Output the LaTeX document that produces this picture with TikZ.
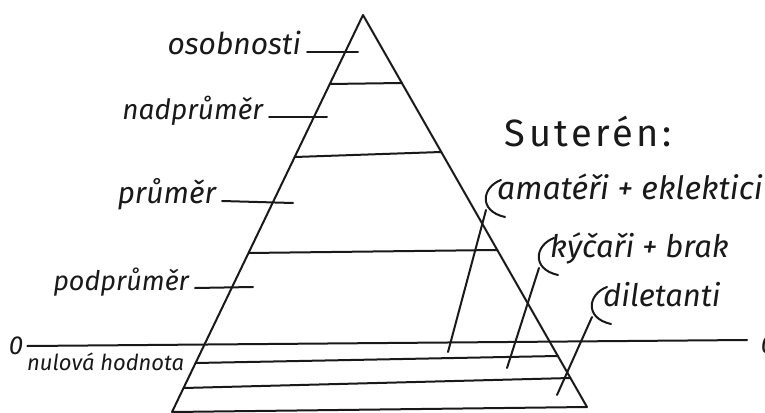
\documentclass[tikz,border=0pt]{standalone}
\usepackage{fontspec}
\setmainfont{Fira Sans}
\usetikzlibrary{calc}

\begin{document}
\begin{tikzpicture}[x=1pt, y=-1pt,
  pen/.style={line width=2pt, line cap=round, line join=round, black!90},
  hand/.style={font=\fontsize{#1}{#1}\selectfont\itshape, inner sep=0pt, text=black!90},
  lft/.style={hand=#1, anchor=mid east, outer xsep=6pt},
  rgt/.style={hand=#1, anchor=mid west}
]
\useasboundingbox (0,0) rectangle (765,412);

% pyramid
\coordinate (apex) at (363,15);
\coordinate (bl)   at (172,412);
\coordinate (br)   at (587,407);
\draw[pen] (bl) -- (apex) -- (br) -- (bl);

% levels
\foreach \yl/\yr in {84/83, 157/152, 253/250, 363/356, 388/378}
  \draw[pen] ($(apex)!{(\yl-15)/397}!(bl)$) -- ($(apex)!{(\yr-15)/392}!(br)$);

% zero line
\node[hand=26] (zeroL) at (16,346) {0};
\node[hand=26] (zeroR) at (768,345) {0};
\coordinate (zeroE) at (747,340);
\draw[pen] ([xshift=4pt]zeroL.east) -- (zeroE);
\node[rgt=22] (nula) at (27,368) {nulová hodnota};

% left labels
\node[lft=30] (osob) at (307,52)  {osobnosti};
\node[lft=28] (nadp) at (269,117) {nadprůměr};
\node[lft=30] (prum) at (222,201) {průměr};
\node[lft=27] (podp) at (195,288) {podprůměr};
\coordinate (osobT) at (358,52);
\coordinate (nadpT) at (327,117);
\coordinate (prumT) at (293,203);
\coordinate (podpT) at (253,287);
\foreach \n in {osob,nadp,prum,podp}
  \draw[pen] (\n.mid east) -- (\n T);

% suteren
\node[font=\fontsize{38}{38}\selectfont\addfontfeature{LetterSpace=9}, text=black!90]
  (sut) at (588,132) {Suterén:};
\node[rgt=32] (amat) at (497,197) {amatéři + eklektici};
\node[rgt=31] (kyc)  at (550,255) {kýčaři + brak};
\node[rgt=31] (dil)  at (603,304) {diletanti};
\coordinate (amatL) at (448,352);
\coordinate (kycL)  at (507,368);
\coordinate (dilL)  at (557,395);
\foreach \n in {amat,kyc,dil}{
  \draw[pen] ($(\n.mid west)+(4,-17)$) .. controls ($(\n.mid west)+(-15,-10)$)
    and ($(\n.mid west)+(-19,14)$) .. ($(\n.mid west)+(8,20)$);
  \draw[pen] ($(\n.mid west)+(-11,13)$) -- (\n L);
}

\end{tikzpicture}
\end{document}
